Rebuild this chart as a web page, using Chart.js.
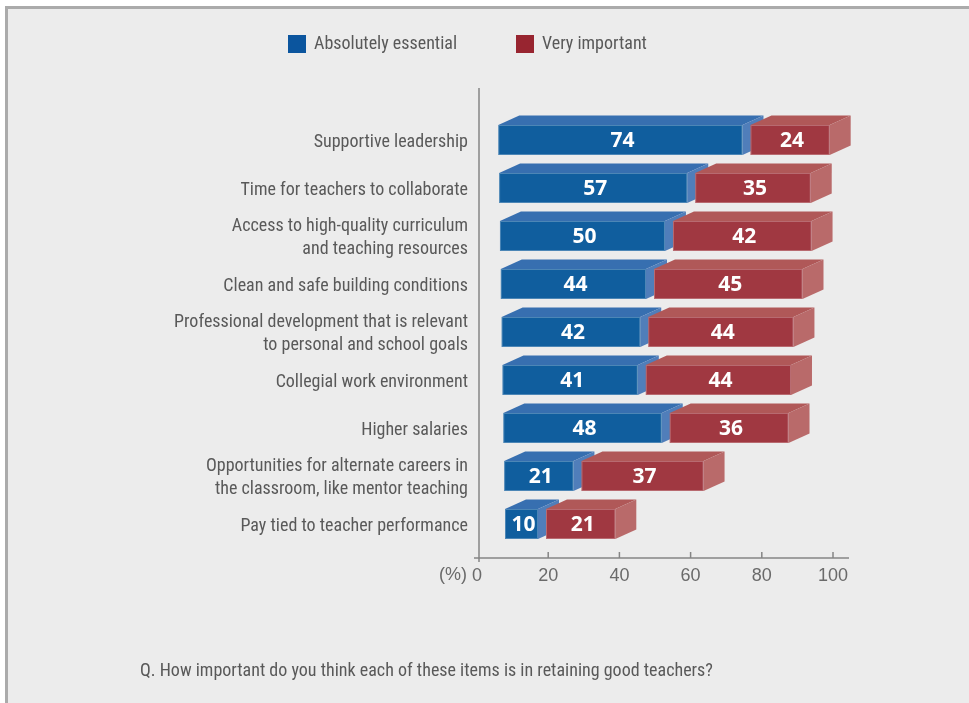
<!DOCTYPE html>
<html><head><meta charset="utf-8">
<script src="https://cdn.jsdelivr.net/npm/chart.js@4.4.1/dist/chart.umd.min.js"></script>
<style>
html,body{margin:0;padding:0;background:#fff;}
#panel{position:absolute;left:5px;top:6px;width:964px;height:697px;background:#ececec;border-top:3px solid #ababab;border-left:3px solid #ababab;box-sizing:border-box;}
#wrap{position:absolute;left:0;top:0;width:969px;height:703px;}
</style></head><body>
<div id="panel"></div>
<div id="wrap"><canvas id="c" width="969" height="703"></canvas></div>
<script>
const categories = [
  'Supportive leadership',
  'Time for teachers to collaborate',
  ['Access to high-quality curriculum', 'and teaching resources'],
  'Clean and safe building conditions',
  ['Professional development that is relevant', 'to personal and school goals'],
  'Collegial work environment',
  'Higher salaries',
  ['Opportunities for alternate careers in', 'the classroom, like mentor teaching'],
  'Pay tied to teacher performance'
];
const absolutelyEssential = [74, 57, 50, 44, 42, 41, 48, 21, 10];
const veryImportant = [24, 35, 42, 45, 44, 44, 36, 37, 21];
const axisTicks = [0, 20, 40, 60, 80, 100];
const footnote = 'Q. How important do you think each of these items is in retaining good teachers?';

const LABEL_FONT = "'Roboto Condensed', 'Liberation Sans Narrow', sans-serif";
const NUM_FONT = "'Open Sans', 'DejaVu Sans', sans-serif";
const TEXT_COLOR = '#595959';

// face colours for each series: front, top, side, legend swatch
const palette = [
  { front: '#105e9e', top: '#376fb0', side: '#507eba', legend: '#0b559e' },
  { front: '#a03841', top: '#b05858', side: '#b96a6a', legend: '#982530' }
];

// extruded box look for the stacked bars
const box3d = {
  id: 'box3d',
  beforeDatasetDraw() { return false; },
  afterDatasetsDraw(chart) {
    const ctx = chart.ctx;
    const depthX = 21, depthY = -9.5;
    const segGap = 8;      // later segments sit a little to the right
    const rowSkew = 0.84;  // slight perspective drift down the rows
    ctx.save();
    chart.data.datasets.forEach((ds, di) => {
      const meta = chart.getDatasetMeta(di);
      const col = palette[di];
      meta.data.forEach((el, i) => {
        const p = el.getProps(['x', 'y', 'base', 'height'], true);
        const shift = di * segGap + i * rowSkew;
        const x0 = p.base + shift, x1 = p.x + shift;
        const top = p.y - p.height / 2, bot = p.y + p.height / 2;
        // top face
        ctx.fillStyle = col.top;
        ctx.beginPath();
        ctx.moveTo(x0, top); ctx.lineTo(x0 + depthX, top + depthY);
        ctx.lineTo(x1 + depthX, top + depthY); ctx.lineTo(x1, top);
        ctx.closePath(); ctx.fill();
        // side face
        ctx.fillStyle = col.side;
        ctx.beginPath();
        ctx.moveTo(x1, top); ctx.lineTo(x1 + depthX, top + depthY);
        ctx.lineTo(x1 + depthX, bot + depthY); ctx.lineTo(x1, bot);
        ctx.closePath(); ctx.fill();
        // front face
        ctx.fillStyle = col.front;
        ctx.fillRect(x0, top, x1 - x0, bot - top);
        ctx.strokeStyle = 'rgba(255,255,255,0.25)';
        ctx.lineWidth = 1;
        ctx.strokeRect(x0 + 0.5, top + 0.5, x1 - x0 - 1, bot - top - 1);
        // value
        ctx.fillStyle = '#ffffff';
        ctx.font = "bold 21px " + NUM_FONT;
        ctx.textAlign = 'center';
        ctx.textBaseline = 'middle';
        ctx.fillText(String(ds.data[i]), (x0 + x1) / 2 + 2, p.y + 1);
      });
    });
    ctx.restore();
  }
};

// axis lines, legend, unit label and question text
const decorations = {
  id: 'decorations',
  afterDraw(chart) {
    const ctx = chart.ctx;
    const xs = chart.scales.x;
    const axisY = 558;
    const x0 = xs.getPixelForValue(0) + 2;
    ctx.save();
    ctx.strokeStyle = '#858585';
    ctx.lineWidth = 1.5;
    ctx.beginPath();
    ctx.moveTo(x0, 88); ctx.lineTo(x0, axisY + 4);
    ctx.moveTo(x0 - 5, axisY); ctx.lineTo(849, axisY);
    axisTicks.forEach(v => {
      if (v === 0) return;
      const px = xs.getPixelForValue(v);
      ctx.moveTo(px, axisY - 6); ctx.lineTo(px, axisY);
    });
    ctx.stroke();

    ctx.fillStyle = '#6a6a6a';
    ctx.font = "18px 'Liberation Sans', 'DejaVu Sans', sans-serif";
    ctx.textAlign = 'right';
    ctx.textBaseline = 'middle';
    ctx.fillText('(%)', 467, 575);

    // legend
    const items = [{ x: 288 }, { x: 516 }];
    ctx.font = "18px " + LABEL_FONT;
    ctx.textAlign = 'left';
    chart.data.datasets.forEach((ds, di) => {
      const it = items[di];
      ctx.fillStyle = palette[di].legend;
      ctx.fillRect(it.x, 35, 18, 18);
      ctx.fillStyle = TEXT_COLOR;
      ctx.fillText(ds.label, it.x + 26, 44);
    });

    ctx.font = "18px " + LABEL_FONT;
    ctx.fillStyle = TEXT_COLOR;
    ctx.fillText(footnote, 140, 671);
    ctx.restore();
  }
};

new Chart(document.getElementById('c'), {
  type: 'bar',
  data: {
    labels: categories,
    datasets: [
      { label: 'Absolutely essential', data: absolutelyEssential, backgroundColor: palette[0].front, xAxisID: 'xb' },
      { label: 'Very important', data: veryImportant, backgroundColor: palette[1].front, xAxisID: 'xb' }
    ]
  },
  options: {
    indexAxis: 'y',
    responsive: false,
    animation: false,
    events: [],
    barThickness: 30,
    layout: { padding: { left: 0, right: 136, top: 116, bottom: 95 } },
    plugins: { legend: { display: false }, tooltip: { enabled: false } },
    scales: {
      y: {
        stacked: true,
        grid: { display: false, drawTicks: false },
        border: { display: false },
        ticks: { autoSkip: false, color: TEXT_COLOR, padding: 9, labelOffset: 2, font: { family: LABEL_FONT, size: 18, lineHeight: 1.3 } },
        afterFit(s) { s.width = 477; }
      },
      x: {
        min: 0, max: 100,
        position: 'bottom',
        grid: { display: false, drawTicks: false },
        border: { display: false },
        afterBuildTicks(s) { s.ticks = axisTicks.map(v => ({ value: v })); },
        ticks: { color: '#6a6a6a', padding: 17, font: { family: "'Liberation Sans', 'DejaVu Sans', sans-serif", size: 18 } },
        afterFit(s) { s.height = 60; }
      },
      xb: {
        type: 'linear',
        stacked: true,
        display: false,
        min: -6.45, max: 101.43
      }
    }
  },
  plugins: [box3d, decorations]
});
</script>
</body></html>
